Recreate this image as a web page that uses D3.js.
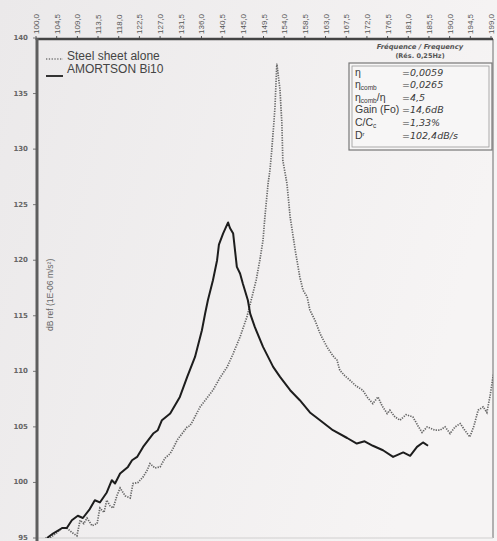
<!DOCTYPE html>
<html>
<head>
<meta charset="utf-8">
<title>Steel sheet vs AMORTSON Bi10</title>
<style>
  html, body { margin: 0; padding: 0; background: #eeeded; }
  svg { display: block; }
</style>
</head>
<body>
<svg id="chart" width="497" height="541"></svg>
<script src="https://cdnjs.cloudflare.com/ajax/libs/d3/7.8.5/d3.min.js"></script>
<script>
// frequency ticks (Hz) and level ticks (dB)
var freqTicks = [100, 104.5, 109, 113.5, 118, 122.5, 127, 131.5, 136, 140.5, 145, 149.5, 154,
                 158.5, 163, 167.5, 172, 176.5, 181, 185.5, 190, 194.5, 199];
var dbTicks = [95, 100, 105, 110, 115, 120, 125, 130, 135, 140];

// Steel sheet alone (dotted)
var steelFreq = [102.0, 103.0, 104.6, 105.7, 106.7, 107.8, 108.9, 109.6, 110.4, 111.1, 112.2, 113.3,
  113.9, 114.8, 115.4, 116.1, 116.8, 117.6, 118.3, 119.4, 120.5, 121.1, 122.2, 123.3, 124.2, 124.8,
  125.9, 127.0, 128.1, 129.2, 130.0, 130.7, 131.8, 132.9, 133.5, 134.2, 135.7, 137.2, 138.5, 140.0,
  141.6, 142.9, 144.4, 145.9, 147.0, 147.9, 148.7, 149.4, 149.8, 150.5, 150.9, 151.3, 151.8, 152.0,
  152.4, 153.1, 153.5, 153.7, 154.6, 155.3, 156.4, 157.4, 158.1, 159.0, 159.6, 160.7, 161.8, 163.3,
  164.6, 165.5, 166.1, 167.2, 168.3, 169.6, 171.1, 172.2, 173.3, 174.4, 175.3, 176.4, 177.0, 178.1,
  179.2, 180.5, 182.0, 183.1, 184.0, 185.1, 185.7, 186.8, 187.9, 189.0, 190.1, 191.2, 192.3, 193.3,
  194.4, 195.3, 196.2, 197.3, 198.1, 198.8, 199.4, 199.9];
var steelDb = [95.0, 95.0, 95.5, 95.9, 95.9, 95.5, 95.2, 96.6, 96.3, 96.8, 96.1, 96.3,
  97.7, 97.3, 98.4, 97.9, 97.7, 98.8, 99.5, 98.8, 98.6, 99.9, 100.0, 100.5, 101.1, 101.7,
  101.3, 101.4, 102.2, 102.6, 103.2, 103.8, 104.4, 105.0, 105.1, 105.6, 106.8, 107.6, 108.3, 109.4,
  110.4, 111.6, 113.1, 114.9, 116.7, 118.2, 120.0, 121.8, 123.9, 126.9, 128.1, 129.9, 132.6, 133.8,
  137.7, 135.3, 132.3, 129.0, 126.9, 123.9, 120.9, 118.5, 117.3, 116.7, 115.5, 114.6, 113.4, 112.2,
  111.4, 111.0, 110.1, 109.6, 109.2, 108.7, 108.3, 107.6, 107.1, 107.7, 106.9, 106.2, 106.5, 105.9,
  105.6, 106.1, 105.9, 105.1, 104.5, 105.0, 104.9, 104.7, 104.7, 105.0, 104.4, 105.0, 105.3, 104.7,
  104.1, 105.1, 106.5, 106.8, 106.3, 107.8, 109.4, 110.5];

// AMORTSON Bi10 (solid)
var amFreq = [102.4, 103.7, 105.7, 106.7, 107.8, 109.1, 110.2, 111.7, 112.8, 113.9, 115.4, 116.5,
  117.2, 118.3, 120.0, 120.9, 122.0, 123.3, 125.5, 126.5, 127.4, 129.2, 131.3, 132.9, 134.6, 136.1,
  136.8, 137.4, 138.5, 139.4, 139.8, 140.7, 141.8, 142.2, 142.9, 143.7, 144.4, 145.0, 146.1, 146.6,
  147.6, 149.4, 151.6, 153.1, 155.3, 157.4, 159.6, 161.8, 164.6, 167.7, 169.8, 171.5, 173.3, 175.5,
  177.7, 179.9, 181.4, 182.9, 184.2, 185.3];
var amDb = [95.0, 95.4, 95.9, 95.9, 96.6, 97.0, 96.8, 97.6, 98.4, 98.2, 99.1, 100.2,
  99.9, 100.8, 101.4, 102.0, 102.3, 103.2, 104.4, 104.7, 105.6, 106.2, 107.7, 109.5, 111.3, 113.7,
  115.2, 116.4, 118.2, 120.0, 121.4, 122.4, 123.4, 122.9, 122.4, 119.4, 118.8, 117.9, 116.4, 115.2,
  114.0, 112.2, 110.4, 109.5, 108.3, 107.4, 106.3, 105.6, 104.7, 104.0, 103.5, 103.7, 103.3, 102.9,
  102.3, 102.7, 102.4, 103.2, 103.6, 103.3];

var legendLabels = ["Steel sheet alone", "AMORTSON Bi10"];
var infoLabels = ["η", "η", "η", "Gain (Fo)", "C/C", "D"];
var infoValues = ["=0,0059", "=0,0265", "=4,5", "=14,6dB", "=1,33%", "=102,4dB/s"];

var svg = d3.select("#chart");
var W = 497, H = 541;
var pLeft = 37, pTop = 39, pRight = 493, pBottom = 538;

var x = d3.scaleLinear().domain([100, 199]).range([36, 491]);
var y = d3.scaleLinear().domain([95, 140]).range([538, 38]);

// background with soft light gradient like the scan
var defs = svg.append("defs");
var grad = defs.append("linearGradient").attr("id", "bg").attr("x1", "0").attr("x2", "1").attr("y1", "0").attr("y2", "0.3");
grad.append("stop").attr("offset", "0").attr("stop-color", "#ebe9ea");
grad.append("stop").attr("offset", "1").attr("stop-color", "#f6f4f4");
defs.append("clipPath").attr("id", "plotclip").append("rect")
  .attr("x", pLeft).attr("y", pTop).attr("width", pRight - pLeft).attr("height", pBottom - pTop);

svg.append("rect").attr("width", W).attr("height", H).attr("fill", "url(#bg)");

// frame
svg.append("line").attr("x1", pRight).attr("x2", pRight).attr("y1", pTop).attr("y2", pBottom)
  .attr("stroke", "#9a9a9a").attr("stroke-width", 1.5);
svg.append("line").attr("x1", pLeft).attr("x2", pRight).attr("y1", pBottom).attr("y2", pBottom)
  .attr("stroke", "#d0cfcf").attr("stroke-width", 1);

// top axis
var topAxis = svg.append("g");
topAxis.selectAll("line.tk").data(freqTicks).enter().append("line")
  .attr("x1", function (d) { return x(d); }).attr("x2", function (d) { return x(d); })
  .attr("y1", pTop - 3).attr("y2", pTop + 1).attr("stroke", "#555").attr("stroke-width", 1);
topAxis.selectAll("text").data(freqTicks).enter().append("text")
  .attr("transform", function (d) { return "translate(" + (x(d) + 3) + "," + (pTop - 5) + ") rotate(-90)"; })
  .attr("font-family", "Liberation Sans, Arial, sans-serif").attr("font-size", 8)
  .attr("fill", "#555")
  .text(function (d) { return d3.format(".1f")(d).replace(".", ","); });
svg.append("line").attr("x1", pLeft - 1).attr("x2", pRight).attr("y1", pTop).attr("y2", pTop)
  .attr("stroke", "#444").attr("stroke-width", 2.5);

// left axis
var leftAxis = svg.append("g");
leftAxis.selectAll("line").data(dbTicks).enter().append("line")
  .attr("x1", pLeft - 4).attr("x2", pLeft).attr("y1", function (d) { return y(d); }).attr("y2", function (d) { return y(d); })
  .attr("stroke", "#777").attr("stroke-width", 1);
leftAxis.selectAll("text").data(dbTicks).enter().append("text")
  .attr("x", 28).attr("y", function (d) { return y(d) + 2; })
  .attr("text-anchor", "end")
  .attr("font-family", "DejaVu Sans, sans-serif").attr("font-size", 7).attr("font-weight", "bold")
  .attr("fill", "#666")
  .text(function (d) { return d; });
svg.append("line").attr("x1", pLeft).attr("x2", pLeft).attr("y1", pTop - 1).attr("y2", H)
  .attr("stroke", "#5e5e5e").attr("stroke-width", 3);

svg.append("text")
  .attr("transform", "translate(53,331) rotate(-90)")
  .attr("font-family", "Liberation Sans, Arial, sans-serif").attr("font-size", 8.5)
  .attr("fill", "#666")
  .text("dB ref (1E-06 m/s²)");

// curves
var line = d3.line()
  .x(function (d) { return x(d[0]); })
  .y(function (d) { return y(d[1]); });
var plot = svg.append("g").attr("clip-path", "url(#plotclip)");

plot.append("path")
  .datum(d3.zip(steelFreq, steelDb))
  .attr("d", line)
  .attr("fill", "none").attr("stroke", "#666").attr("stroke-width", 1.7)
  .attr("stroke-dasharray", "1.3,1.2");

plot.append("path")
  .datum(d3.zip(amFreq, amDb))
  .attr("d", line)
  .attr("fill", "none").attr("stroke", "#1d1d1d").attr("stroke-width", 2)
  .attr("stroke-linejoin", "round");

// legend
var lg = svg.append("g");
lg.append("line").attr("x1", 46).attr("x2", 63).attr("y1", 59).attr("y2", 59)
  .attr("stroke", "#777").attr("stroke-width", 1.5).attr("stroke-dasharray", "1.3,1.5");
lg.append("line").attr("x1", 46).attr("x2", 63).attr("y1", 76).attr("y2", 76)
  .attr("stroke", "#333").attr("stroke-width", 2);
lg.selectAll("text").data(legendLabels).enter().append("text")
  .attr("x", 67).attr("y", function (d, i) { return 60 + i * 13; })
  .attr("font-family", "Liberation Sans, Arial, sans-serif").attr("font-size", 12)
  .attr("fill", "#444")
  .text(function (d) { return d; });

// info box
var ib = svg.append("g");
ib.append("text").attr("x", 420).attr("y", 49).attr("text-anchor", "middle")
  .attr("font-family", "DejaVu Sans, sans-serif").attr("font-size", 6.8).attr("font-style", "italic")
  .attr("font-weight", "bold").attr("fill", "#555").text("Fréquence / Frequency");
ib.append("text").attr("x", 420).attr("y", 58).attr("text-anchor", "middle")
  .attr("font-family", "DejaVu Sans, sans-serif").attr("font-size", 6.5)
  .attr("font-weight", "bold").attr("fill", "#555").text("(Rés. 0,25Hz)");
ib.append("rect").attr("x", 349).attr("y", 63).attr("width", 143).attr("height", 87)
  .attr("fill", "#f7f6f6").attr("stroke", "#777").attr("stroke-width", 1.2);
ib.append("rect").attr("x", 352).attr("y", 66).attr("width", 137).attr("height", 81)
  .attr("fill", "none").attr("stroke", "#999").attr("stroke-width", 0.8);

var rowY = [76, 88, 101, 113, 126, 139];
var lab = ib.selectAll("text.lab").data(infoLabels).enter().append("text")
  .attr("class", "lab")
  .attr("x", 355).attr("y", function (d, i) { return rowY[i]; })
  .attr("font-family", "Liberation Sans, Arial, sans-serif").attr("font-size", 10.5)
  .attr("fill", "#3a3a3a")
  .text(function (d) { return d; });
lab.filter(function (d, i) { return i === 1 || i === 2; }).append("tspan")
  .attr("dy", 2).attr("font-size", 6.5).text("comb");
lab.filter(function (d, i) { return i === 2; }).append("tspan")
  .attr("dy", -2).attr("font-size", 10.5).text("/η");
lab.filter(function (d, i) { return i === 4; }).append("tspan")
  .attr("dy", 2).attr("font-size", 6.5).text("c");
lab.filter(function (d, i) { return i === 5; }).append("tspan")
  .attr("dy", -3).attr("font-size", 6).text("r");

ib.selectAll("text.val").data(infoValues).enter().append("text")
  .attr("class", "val")
  .attr("x", 402).attr("y", function (d, i) { return rowY[i]; })
  .attr("font-family", "DejaVu Sans, sans-serif").attr("font-size", 9.5).attr("font-style", "italic")
  .attr("fill", "#3a3a3a")
  .text(function (d) { return d; });
</script>
</body>
</html>
